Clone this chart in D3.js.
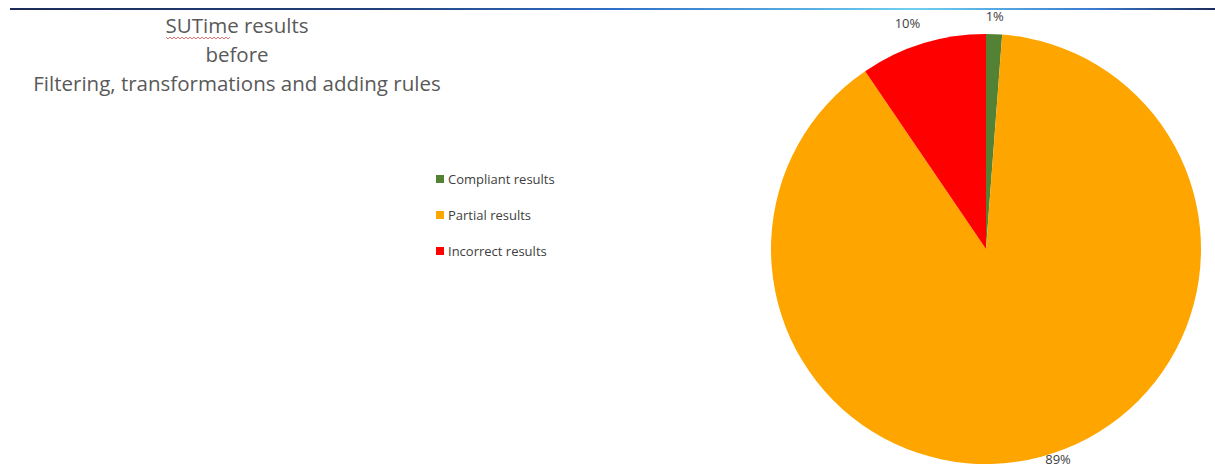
<!DOCTYPE html>
<html><head><meta charset="utf-8">
<script src="https://cdn.jsdelivr.net/npm/d3@7"></script>
<style>body{margin:0;background:#fff}svg{display:block}</style>
</head><body>
<script>
const categories = ["Compliant results", "Partial results", "Incorrect results"];
const values = [1.2, 89.3, 9.5];
const labels = ["1%", "89%", "10%"];
const colors = ["#548235", "#FFA500", "#FF0000"];
const titleLines = ["SUTime results", "before", "Filtering, transformations and adding rules"];

const W = 1215, H = 468;
const svg = d3.select("body").append("svg").attr("width", W).attr("height", H);

// top rule
const defs = svg.append("defs");
const g = defs.append("linearGradient").attr("id", "rule").attr("x1", "0%").attr("x2", "100%");
[[0,"#1c2c5a"],[0.3,"#22407a"],[0.5,"#2f6fc8"],[0.75,"#6fd0f0"],[0.9,"#3a7ad0"],[1,"#1c2c5a"]]
  .forEach(([o,c]) => g.append("stop").attr("offset", o).attr("stop-color", c));
svg.append("rect").attr("x", 10).attr("y", 8).attr("width", W - 10).attr("height", 2).attr("fill", "url(#rule)");

// title
const font = "'Open Sans', 'Noto Sans', sans-serif";
const title = svg.append("g").attr("font-family", font).attr("font-size", 20.5).attr("fill", "#595959").attr("text-anchor", "middle");
titleLines.forEach((t, i) => title.append("text").attr("x", 237).attr("y", 33 + i * 29).text(t));
// spell-check squiggle under "SUTime"
const sq = d3.path();
sq.moveTo(166, 37);
for (let x = 166; x < 230; x += 4) { sq.lineTo(x + 2, 39); sq.lineTo(x + 4, 37); }
svg.append("path").attr("d", sq.toString()).attr("fill", "none").attr("stroke", "#e05050").attr("stroke-width", 0.8);

// legend
const leg = svg.append("g").attr("font-family", font).attr("font-size", 13).attr("fill", "#404040");
categories.forEach((c, i) => {
  const y = 179 + i * 36;
  leg.append("rect").attr("x", 436).attr("y", y - 4).attr("width", 8).attr("height", 8).attr("fill", colors[i]);
  leg.append("text").attr("x", 448).attr("y", y).attr("dominant-baseline", "central").text(c);
});

// pie
const cx = 986, cy = 249, r = 215;
const pie = d3.pie().sort(null).value(d => d)(values);
const arc = d3.arc().innerRadius(0).outerRadius(r);
const pg = svg.append("g").attr("transform", `translate(${cx},${cy})`);
pg.selectAll("path").data(pie).join("path").attr("d", arc).attr("fill", (d, i) => colors[i]);

const labelArc = d3.arc().innerRadius(r + 18).outerRadius(r + 18);
pg.selectAll("text").data(pie).join("text")
  .attr("transform", d => {
    let [x, y] = labelArc.centroid(d);
    if (y > H - cy - 10) { x += 12; y = H - cy - 9; }
    if (x < -40) { x -= 10; y -= 3; }
    return `translate(${x},${y})`;
  })
  .attr("text-anchor", "middle").attr("dominant-baseline", "central")
  .attr("font-family", font).attr("font-size", 13).attr("fill", "#404040")
  .text((d, i) => labels[i]);
</script>
</body></html>
